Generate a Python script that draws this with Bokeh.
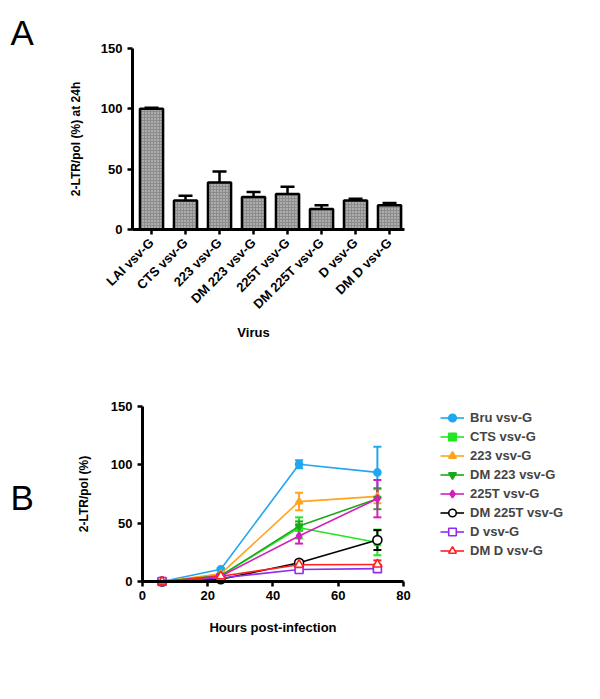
import math
from bokeh.plotting import figure
from bokeh.layouts import column
from bokeh.models import (ColumnDataSource, Whisker, TeeHead, Legend, LegendItem,
                          Label, FixedTicker, Range1d)
from bokeh.embed import file_html
from bokeh.resources import INLINE

FONT = "Liberation Sans"

# ---------------- data: panel A ----------------
viruses = ["LAI vsv-G", "CTS vsv-G", "223 vsv-G", "DM 223 vsv-G", "225T vsv-G",
           "DM 225T vsv-G", "D vsv-G", "DM D vsv-G"]
ltr24 = [100, 24, 39, 27, 29.5, 17, 24, 20]
ltr24_err = [1, 4, 9, 4, 6, 3, 1.5, 2]

# ---------------- data: panel B ----------------
hours = [6, 24, 48, 72]
series_names = ["Bru vsv-G", "CTS vsv-G", "223 vsv-G", "DM 223 vsv-G", "225T vsv-G",
                "DM 225T vsv-G", "D vsv-G", "DM D vsv-G"]
bru = [0, 10.5, 100.5, 93.5]
bru_err = [0.5, 1, 3.5, 22]
cts = [0, 5, 46, 33.5]
cts_err = [0, 1, 9, 11]
s223 = [0, 6.5, 68.5, 73]
s223_err = [0, 1, 7.5, 6]
dm223 = [0, 5, 47.5, 71]
dm223_err = [0, 1, 4, 9]
s225t = [0, 4.5, 39, 71]
s225t_err = [0, 1, 6.5, 16]
dm225t = [0, 2, 16, 35.5]
dm225t_err = [0, 0.5, 2, 8.5]
dvsv = [0, 3, 10.3, 11]
dvsv_err = [0, 0.5, 2, 2]
dmd = [0, 4.5, 14.3, 14.6]
dmd_err = [0, 0.5, 3, 3.5]

values_b = [bru, cts, s223, dm223, s225t, dm225t, dvsv, dmd]
errors_b = [bru_err, cts_err, s223_err, dm223_err, s225t_err, dm225t_err, dvsv_err, dmd_err]
colors_b = ["#1fa7f0", "#22e622", "#ffa41c", "#1aa81a", "#d420b8", "#000000", "#8f2cf0", "#ff2020"]
markers_b = ["circle", "square", "triangle", "inverted_triangle", "diamond", "circle", "square", "triangle"]
filled_b = [True, True, True, True, True, False, False, False]
sizes_b = [7, 6, 7, 7, 8, 9, 8, 9]


def style_axes(p):
    for ax in (p.xaxis[0], p.yaxis[0]):
        ax.axis_line_width = 3
        ax.axis_line_color = "black"
        ax.major_tick_line_width = 2.5
        ax.major_tick_line_color = "black"
        ax.major_tick_out = 5
        ax.major_tick_in = 0
        ax.minor_tick_line_color = None
        ax.major_label_text_font = FONT
        ax.major_label_text_font_style = "bold"
        ax.major_label_text_font_size = "13px"
        ax.major_label_text_color = "black"
        ax.axis_label_text_font = FONT
        ax.axis_label_text_font_style = "bold"
        ax.axis_label_text_color = "black"
    p.xgrid.grid_line_color = None
    p.ygrid.grid_line_color = None
    p.outline_line_color = None


W = 590

# ---------------- Panel A ----------------
xa = list(range(1, len(viruses) + 1))
A_AX_LO, A_AX_HI = 0.441, 8.44
pa = figure(width=W, height=378, output_backend="svg", toolbar_location=None,
            x_range=Range1d(-3.441, 13.91), y_range=Range1d(-123.48, 189.78),
            min_border_left=0, min_border_right=0, min_border_top=0, min_border_bottom=0)
src_a = ColumnDataSource(dict(x=xa, y=ltr24, top=[a + b for a, b in zip(ltr24, ltr24_err)]))
pa.vbar(x="x", top="y", width=0.68, source=src_a, fill_color="#8c8c8c",
        hatch_pattern="dot", hatch_color="#dddddd", hatch_scale=3, hatch_weight=1,
        line_color="black", line_width=2.5)
pa.add_layout(Whisker(source=src_a, base="x", upper="top", lower="y",
                      line_color="black", line_width=2.5,
                      upper_head=TeeHead(size=14, line_width=2.5, line_color="black"),
                      lower_head=None))
style_axes(pa)
pa.yaxis.ticker = FixedTicker(ticks=[0, 50, 100, 150])
pa.yaxis.bounds = (0, 150)
pa.yaxis.fixed_location = A_AX_LO
pa.xaxis.bounds = (A_AX_LO, A_AX_HI)
pa.xaxis.fixed_location = 0
pa.xaxis.ticker = FixedTicker(ticks=xa)
pa.xaxis.major_label_overrides = {i: v for i, v in zip(xa, viruses)}
pa.xaxis.major_label_orientation = math.pi / 4
pa.yaxis.axis_label = "2-LTR/pol (%) at 24h"
pa.yaxis.axis_label_text_font_size = "12px"
pa.yaxis.axis_label_standoff = 15
pa.xaxis.major_label_standoff = 6
# x-axis title of panel A (placed where the original puts it, left of the axis centre)
pa.add_layout(Label(x=253, y=46, x_units="screen", y_units="screen", text="Virus",
                    text_align="center", text_baseline="middle", text_font=FONT,
                    text_font_style="bold", text_font_size="13px", text_color="black"))
pa.add_layout(Label(x=10, y=346, x_units="screen", y_units="screen", text="A",
                    text_baseline="alphabetic",
                    text_font=FONT, text_font_size="35px", text_color="black"))

# ---------------- Panel B ----------------
pb = figure(width=W, height=312, output_backend="svg", toolbar_location=None,
            x_range=Range1d(-43.52, 137.32), y_range=Range1d(-93.43, 174),
            min_border_left=0, min_border_right=0, min_border_top=0, min_border_bottom=0)
items = []
for name, vals, errs, col, mk, fl, sz in zip(series_names, values_b, errors_b, colors_b,
                                             markers_b, filled_b, sizes_b):
    src = ColumnDataSource(dict(x=hours, y=vals,
                                lo=[v - e for v, e in zip(vals, errs)],
                                hi=[v + e for v, e in zip(vals, errs)]))
    ln = pb.line("x", "y", source=src, line_color=col, line_width=1.6)
    pb.add_layout(Whisker(source=src, base="x", upper="hi", lower="lo",
                          line_color=col, line_width=2,
                          upper_head=TeeHead(size=8, line_width=2, line_color=col),
                          lower_head=TeeHead(size=8, line_width=2, line_color=col)))
    sc = pb.scatter("x", "y", source=src, marker=mk, size=sz, line_color=col, line_width=1.6,
                    fill_color=col if fl else "white")
    items.append(LegendItem(label=name, renderers=[ln, sc]))

style_axes(pb)
pb.yaxis.ticker = FixedTicker(ticks=[0, 50, 100, 150])
pb.xaxis.ticker = FixedTicker(ticks=[0, 20, 40, 60, 80])
pb.xaxis.bounds = (0, 80)
pb.yaxis.bounds = (0, 150)
pb.yaxis.fixed_location = 0
pb.xaxis.fixed_location = 0
pb.yaxis.axis_label = "2-LTR/pol (%)"
pb.yaxis.axis_label_text_font_size = "12px"
pb.yaxis.axis_label_standoff = 17
pb.xaxis.axis_label = "Hours post-infection"
pb.xaxis.axis_label_text_font_size = "13px"
pb.xaxis.axis_label_standoff = 16

legend = Legend(items=items, location=(440, 130), background_fill_alpha=0,
                border_line_color=None, label_text_font=FONT, label_text_font_style="bold",
                label_text_font_size="13px", glyph_width=24, glyph_height=19, label_height=19,
                spacing=0, label_standoff=6, padding=0, margin=0)
pb.add_layout(legend, "center")
pb.add_layout(Label(x=10, y=193, x_units="screen", y_units="screen", text="B",
                    text_baseline="alphabetic",
                    text_font=FONT, text_font_size="35px", text_color="black"))

layout = column(pa, pb, spacing=0)
open("out.html", "w").write(file_html(layout, INLINE))
